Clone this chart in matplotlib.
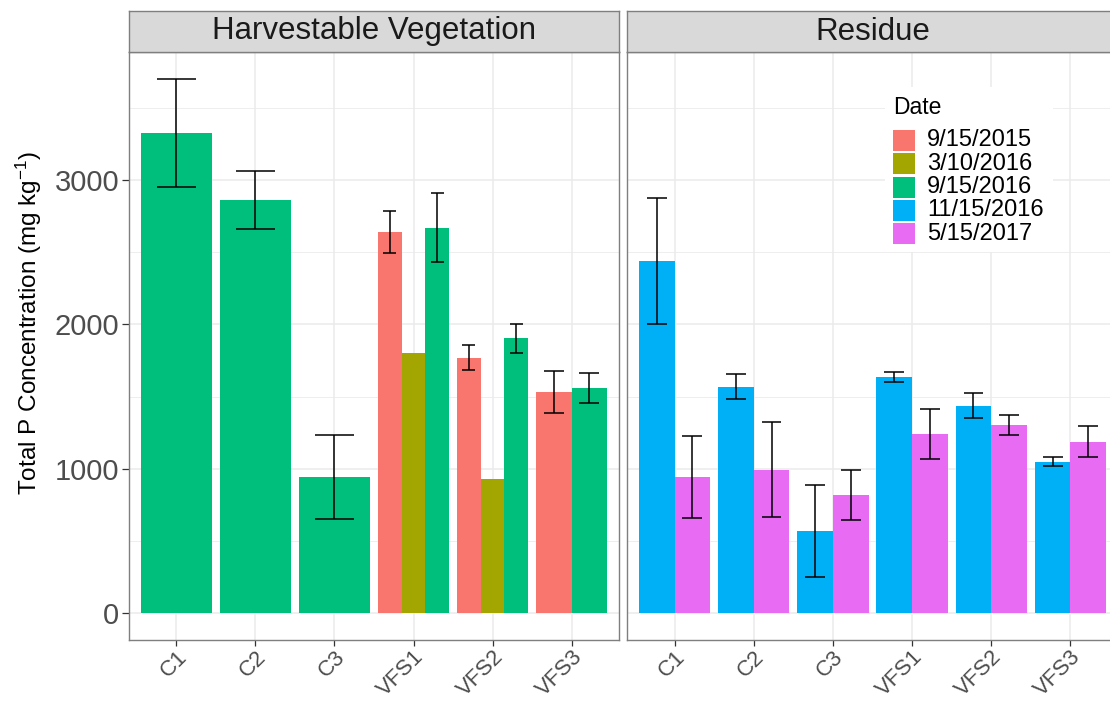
import numpy as np
import matplotlib.pyplot as plt
from matplotlib.patches import Rectangle

plt.rcParams['font.family'] = ['Liberation Sans', 'DejaVu Sans']
plt.rcParams['mathtext.fontset'] = 'custom'
plt.rcParams['mathtext.rm'] = 'Liberation Sans'
plt.rcParams['mathtext.it'] = 'Liberation Sans:italic'

sites = ['C1', 'C2', 'C3', 'VFS1', 'VFS2', 'VFS3']
dates = ['9/15/2015', '3/10/2016', '9/15/2016', '11/15/2016', '5/15/2017']
colors = ['#F8766D', '#A3A500', '#00BF7D', '#00B0F6', '#E76BF3']
nan = np.nan

# Harvestable vegetation: mean and standard error per sampling date
veg_mean = {
    '9/15/2015': [nan, nan, nan, 2638, 1769, 1534],
    '3/10/2016': [nan, nan, nan, 1804, 931, nan],
    '9/15/2016': [3326, 2861, 945, 2670, 1903, 1560],
}
veg_se = {
    '9/15/2015': [nan, nan, nan, 145, 88, 145],
    '3/10/2016': [nan, nan, nan, nan, nan, nan],
    '9/15/2016': [375, 198, 289, 240, 98, 104],
}
# Residue
res_mean = {
    '11/15/2016': [2437, 1569, 569, 1636, 1437, 1050],
    '5/15/2017': [945, 995, 818, 1242, 1301, 1189],
}
res_se = {
    '11/15/2016': [435, 88, 318, 32, 88, 29],
    '5/15/2017': [282, 331, 172, 174, 70, 105],
}

panels = [('Harvestable Vegetation', veg_mean, veg_se),
          ('Residue', res_mean, res_se)]

W, H = 1110, 702


def box(x0, y0, x1, y1):
    return [x0 / W, 1 - y1 / H, (x1 - x0) / W, (y1 - y0) / H]


fig = plt.figure(figsize=(W / 100, H / 100), dpi=100)

# y range like ggplot: include 0 and error bars, 5% expansion
top = max(np.nanmax(np.array(m[d]) + np.array(s[d]))
          for _, m, s in panels for d in m)
ylim = (-0.05 * top, 1.05 * top)

panel_x = [(129, 619), (627, 1118)]
edge = '#7F7F7F'

for p, (title, means, ses) in enumerate(panels):
    x0, x1 = panel_x[p]
    ax = fig.add_axes(box(x0, 52, x1, 640))
    st = fig.add_axes(box(x0, 11, x1, 52))

    xs = np.arange(len(sites))
    present = np.array([~np.isnan(means[d]) for d in means])
    n = present.sum(axis=0)
    slot = np.zeros(len(sites), int)
    for d in means:
        col = colors[dates.index(d)]
        for j in range(len(sites)):
            v = means[d][j]
            if np.isnan(v):
                continue
            w = 0.9 / n[j]
            xc = xs[j] - 0.45 + (slot[j] + 0.5) * w
            slot[j] += 1
            ax.bar(xc, v, width=w, color=col, linewidth=0, zorder=2)
            e = ses[d][j]
            if not np.isnan(e):
                cw = 0.5 / n[j]
                ax.vlines(xc, v - e, v + e, color='black', lw=1.1, zorder=3)
                ax.hlines([v - e, v + e], xc - cw / 2, xc + cw / 2,
                          color='black', lw=1.1, zorder=3)

    ax.set_xlim(-0.6, len(sites) - 0.4)
    ax.set_ylim(*ylim)
    ax.set_xticks(xs)
    ax.set_xticklabels(sites, rotation=45, ha='right', va='top',
                       rotation_mode='anchor', fontsize=16, color='#4D4D4D')
    ax.set_yticks([0, 1000, 2000, 3000])
    ax.set_yticks([500, 1500, 2500, 3500], minor=True)
    ax.grid(which='major', color='#EBEBEB', lw=1.1, zorder=0)
    ax.grid(which='minor', axis='y', color='#EBEBEB', lw=0.6, zorder=0)
    ax.set_axisbelow(True)
    ax.tick_params(axis='x', length=4, width=0.9, color='#333333', pad=0.5)
    ax.tick_params(which='minor', length=0)
    if p == 0:
        ax.tick_params(axis='y', length=5, width=0.9, color='#333333',
                       labelsize=21, labelcolor='#4D4D4D', pad=2)
    else:
        ax.tick_params(axis='y', length=0, labelleft=False)
    for s in ax.spines.values():
        s.set_color(edge)
        s.set_linewidth(1.0)

    st.set_facecolor('#D9D9D9')
    st.set_xticks([])
    st.set_yticks([])
    for s in st.spines.values():
        s.set_color(edge)
        s.set_linewidth(1.0)
    st.text(0.5, 0.5, title, transform=st.transAxes, ha='center',
            va='center', fontsize=22.5, color='#1A1A1A')

fig.text(29 / W, 1 - 323 / H, r'Total P Concentration (mg kg$^{-1}$)',
         rotation=90, ha='center', va='center', fontsize=17.5)

# legend drawn in pixel coordinates on an overlay
lax = fig.add_axes([0, 0, 1, 1])
lax.set_xlim(0, W)
lax.set_ylim(H, 0)
lax.set_axis_off()
lax.set_zorder(5)
lax.add_patch(Rectangle((885, 87), 168, 165, facecolor='white',
                        edgecolor='none'))
lax.text(893, 108, 'Date', ha='left', va='center', fontsize=16.5)
for i, (d, c) in enumerate(zip(dates, colors)):
    yk = 130 + i * 23.3
    lax.add_patch(Rectangle((893, yk), 21.5, 21, facecolor=c,
                            edgecolor='none'))
    lax.text(927, yk + 10.5, d, ha='left', va='center', fontsize=17)

fig.savefig('out.png', dpi=100)
